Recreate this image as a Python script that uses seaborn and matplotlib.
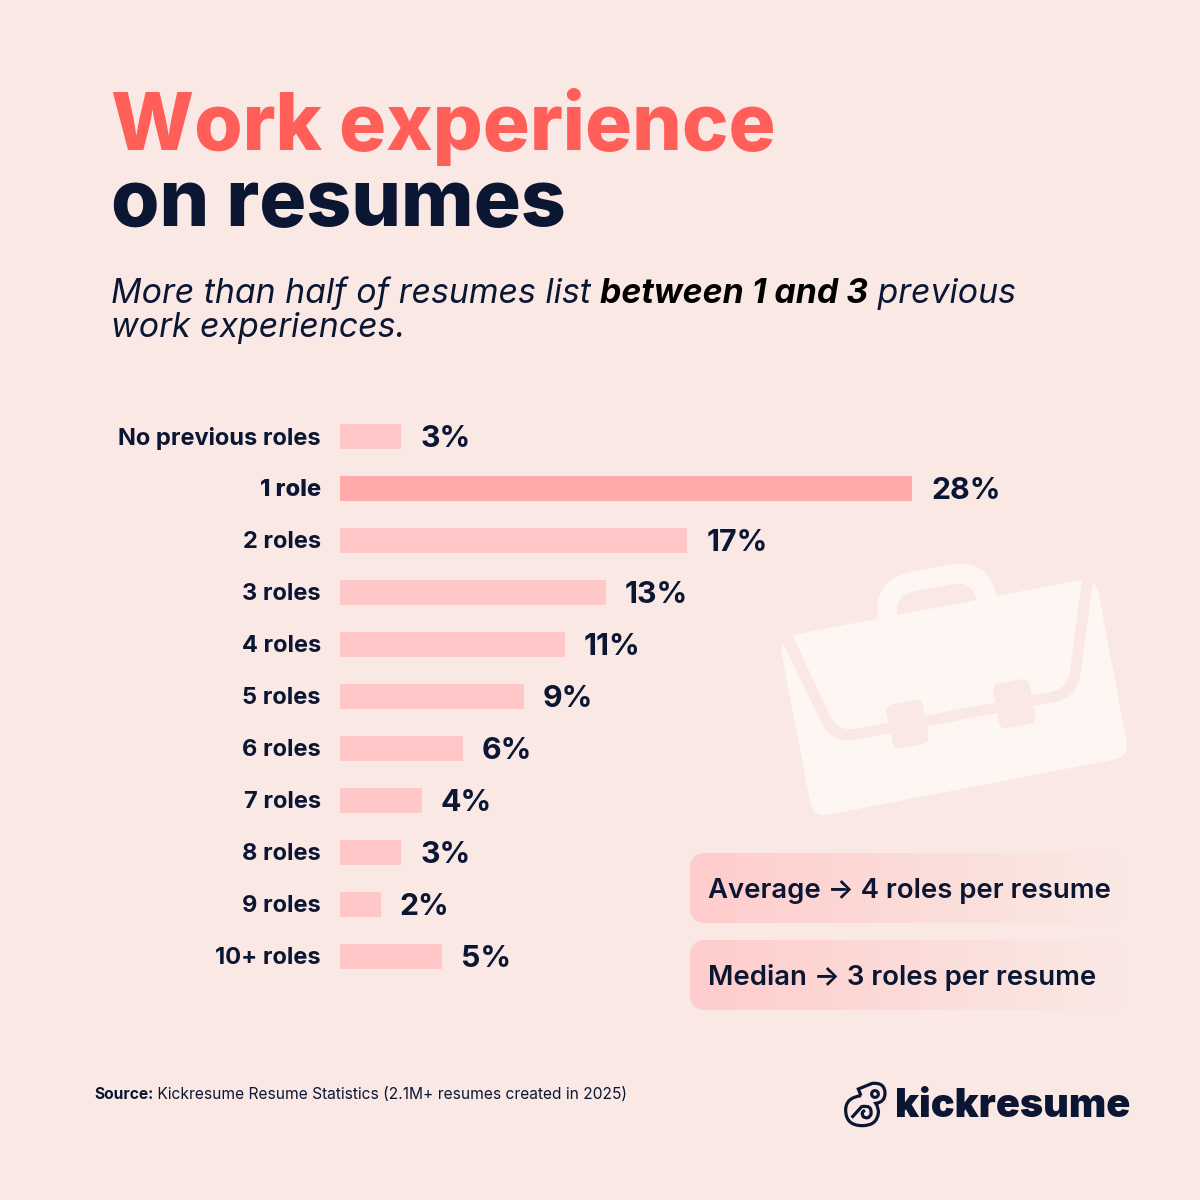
import matplotlib
matplotlib.use("Agg")
import numpy as np
import pandas as pd
import seaborn as sns
import matplotlib.pyplot as plt
from matplotlib.path import Path
from matplotlib.patches import PathPatch, FancyBboxPatch, Polygon

categories = ["No previous roles", "1 role", "2 roles", "3 roles", "4 roles", "5 roles",
              "6 roles", "7 roles", "8 roles", "9 roles", "10+ roles"]
values = [3, 28, 17, 13, 11, 9, 6, 4, 3, 2, 5]
highlight = "1 role"
title_top = "Work experience"
title_bottom = "on resumes"
sub_parts = [("More than half of resumes list ", False), ("between 1 and 3", True), (" previous", False)]
sub_line2 = "work experiences."
stats = ["Average → 4 roles per resume", "Median → 3 roles per resume"]
source_bold = "Source:"
source_rest = " Kickresume Resume Statistics (2.1M+ resumes created in 2025)"
brand = "kickresume"

BG = "#FAE8E4"; INK = "#0B1633"; RED = "#FF5F58"; BAR = "#FFC7C7"; BAR_HI = "#FFABAB"; LIGHT = "#FEF6F3"
FONT = "Inter"

sns.set_theme(style="white", rc={"figure.facecolor": BG, "axes.facecolor": "none"})
plt.rcParams["font.family"] = [FONT, "DejaVu Sans"]

fig = plt.figure(figsize=(12, 12), dpi=100, facecolor=BG)
deco = fig.add_axes([0, 0, 1, 1], zorder=0)
deco.set_xlim(0, 1200); deco.set_ylim(1200, 0); deco.axis("off")


def z(x, y):
    return (770 + x / 3, 550 + y / 3)


def build(cmds, conv, close=True):
    verts, codes = [], []
    for c in cmds:
        if len(c) == 1:
            verts.append(conv(*c[0])); codes.append(Path.LINETO if verts[:-1] else Path.MOVETO)
        else:
            verts += [conv(*c[0]), conv(*c[1])]; codes += [Path.CURVE3, Path.CURVE3]
    if close:
        verts.append(verts[0]); codes.append(Path.CLOSEPOLY)
    return Path(verts, codes)


def shape(cmds, **kw):
    deco.add_patch(PathPatch(build(cmds, z), lw=0, **kw))


# briefcase
shape([((38, 278),), ((152, 512),), ((178, 578), (255, 570)), ((850, 457),), ((922, 445), (932, 370)),
       ((968, 97),), ((982, 108), (985, 125)), ((1070, 575),), ((1078, 620), (1035, 628)),
       ((170, 795),), ((128, 800), (120, 755)), ((33, 300),), ((33, 288), (38, 278))], fc=LIGHT)
shape([((67, 255),), ((936, 89),), ((900, 365),), ((893, 415), (845, 425)), ((255, 537),),
       ((205, 545), (180, 497))], fc=LIGHT)
shape([((323, 207),), ((310, 90), (415, 68)), ((545, 43),), ((660, 28), (680, 138)), ((619, 149),),
       ((605, 92), (550, 102)), ((430, 125),), ((375, 135), (381, 195))], fc=LIGHT)
for pts in ([(367, 481), (441, 468), (458, 563), (386, 578)], [(687, 419), (761, 405), (778, 504), (705, 517)]):
    deco.add_patch(Polygon([z(*p) for p in pts], closed=True, fc=BG, ec=BG, lw=12 * 0.72, joinstyle="round"))

# stat pills with a gradient fading into the background
cmap = matplotlib.colors.LinearSegmentedColormap.from_list(
    "fade", [(0, "#FFCCCC"), (0.55, "#FBDDD9"), (0.97, BG), (1, BG)])
grad = np.linspace(0, 1, 256).reshape(1, -1)
for top in (853, 940):
    im = deco.imshow(grad, extent=(690, 1125, top + 70, top), cmap=cmap, aspect="auto", zorder=1)
    pill = FancyBboxPatch((690, top), 435, 70, boxstyle="round,pad=0,rounding_size=16",
                          transform=deco.transData, fc="none", ec="none")
    deco.add_patch(pill)
    im.set_clip_path(pill)
deco.set_xlim(0, 1200); deco.set_ylim(1200, 0)

# bars
ax = fig.add_axes([340 / 1200, 1 - 982 / 1200, 700 / 1200, 572 / 1200], zorder=2)
df = pd.DataFrame({"category": categories, "value": values})
palette = {c: (BAR_HI if c == highlight else BAR) for c in categories}
sns.barplot(data=df, y="category", x="value", hue="category", palette=palette, dodge=False,
            legend=False, width=25 / 52, saturation=1, linewidth=0, ax=ax)
ax.set_xlim(0, 700 / 20.43)
ax.set_ylim(10.5, -0.5)
ax.set_xlabel(""); ax.set_ylabel(""); ax.set_xticks([])
sns.despine(ax=ax, left=True, bottom=True)
ax.tick_params(axis="y", length=0, pad=13.7)
for lab in ax.get_yticklabels():
    lab.set_fontsize(17); lab.set_fontweight(800 if lab.get_text() == highlight else "bold")
    lab.set_color(INK)
for i, v in enumerate(values):
    ax.annotate(f"{v}%", (v, i), xytext=(19 * 0.72, 0), textcoords="offset points", va="center_baseline",
                ha="left", fontsize=21.8, fontweight="bold", color=INK)

# texts
T = dict(color=INK, zorder=5)
deco.text(111, 150, title_top, fontsize=56.5, fontweight=800, color=RED, zorder=5)
deco.text(111, 226, title_bottom, fontsize=56.5, fontweight=800, **T)
x = 111
r = fig.canvas.get_renderer()
for s, b in sub_parts:
    t = deco.text(x, 303, s.replace(" ", "\u00a0"), fontsize=24.4, style="italic",
                  fontweight="bold" if b else "normal", color="black" if b else INK, zorder=5)
    x = t.get_window_extent(r).x1
deco.text(111, 337, sub_line2, fontsize=24.4, style="italic", fontweight="normal", **T)
for s, y in zip(stats, (898, 985)):
    deco.text(708, y, s, fontsize=19.8, fontweight=600, **T)
t = deco.text(94, 1099, source_bold, fontsize=11.2, fontweight="bold", **T)
deco.text(t.get_window_extent(r).x1, 1099, source_rest.replace(" ", "\u00a0", 1), fontsize=11.2, **T)
deco.text(895, 1117, brand, fontsize=28.5, fontweight="black", **T)


# logo mark
def lg(x, y):
    return (835 + x / 3, 1075 + y / 3)


outline = [((78, 62),), ((70, 42),), ((112, 25),), ((150, 22), (150, 55)), ((150, 82), (122, 85)),
           ((132, 100), (130, 115)), ((125, 152), (82, 152)), ((32, 152), (32, 105)), ((32, 68), (78, 62)),
           ]
deco.add_patch(PathPatch(build(outline, lg, close=False), fc="none", ec=INK, lw=2.3, zorder=6))
spiral = [((50, 128),), ((80, 95),), ((112, 88), (108, 118)), ((100, 135), (85, 125)), ((76, 112), (90, 106))]
deco.add_patch(PathPatch(build(spiral, lg, close=False), fc="none", ec=INK, lw=2.3, zorder=6))
deco.add_patch(plt.Circle(lg(120, 57), 3.4, fc="none", ec=INK, lw=2.2, zorder=6))

fig.savefig("out.png", dpi=100, facecolor=BG)
